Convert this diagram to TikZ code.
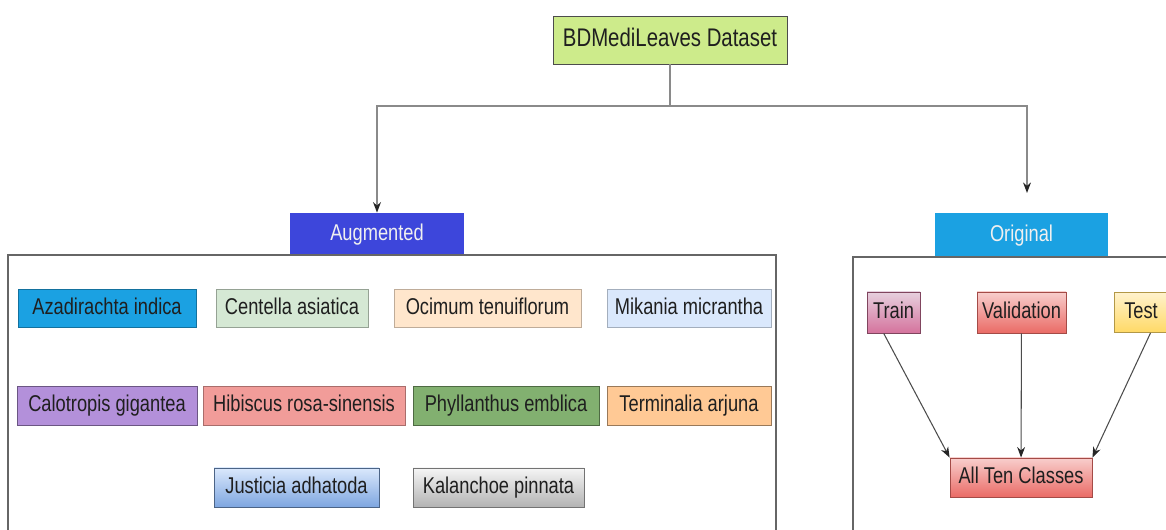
\documentclass[tikz,border=0pt]{standalone}
\usepackage{fontspec}
\usetikzlibrary{arrows.meta}
\setmainfont{Liberation Sans}[FakeStretch=0.8]
\definecolor{dsgreen}{HTML}{CDEB8B}
\definecolor{augblue}{HTML}{3D46DB}
\definecolor{origblue}{HTML}{1BA1E2}
\definecolor{linegray}{HTML}{8A8A8A}
\definecolor{centgreen}{HTML}{D5E8D4}
\definecolor{ocimpeach}{HTML}{FFE6CC}
\definecolor{mikablue}{HTML}{DAE8FC}
\definecolor{calopurple}{HTML}{B390DA}
\definecolor{hibired}{HTML}{F19C99}
\definecolor{phylgreen}{HTML}{82B070}
\definecolor{termorange}{HTML}{FFC995}
\definecolor{justlow}{HTML}{7EA6E0}
\definecolor{kalatop}{HTML}{F5F5F5}
\definecolor{kalalow}{HTML}{B3B3B3}
\definecolor{traintop}{HTML}{E6D0DE}
\definecolor{trainlow}{HTML}{D5739D}
\definecolor{redtop}{HTML}{F8CECC}
\definecolor{redlow}{HTML}{EA6B66}
\definecolor{testtop}{HTML}{FFF2CC}
\definecolor{testlow}{HTML}{FFD966}

\begin{document}
\begin{tikzpicture}[x=0.02cm, y=0.02cm, >={Stealth[length=6pt,width=4.5pt,color=black!85]},
  box/.style={draw=#1, line width=0.5pt, inner sep=0pt, text=black!88,
    text height=9.6pt, text depth=2.6pt, font=\fontsize{13}{15}\selectfont},
  box/.default=black!55,
  head/.style={draw=none, inner sep=0pt, text=white!94!black,
    text height=9.6pt, text depth=2.6pt, font=\fontsize{13}{15}\selectfont},
  frame/.style={draw=black!60, line width=0.7pt},
  link/.style={draw=linegray, line width=0.8pt}]

  \clip (0,0) rectangle (1166,530);

  % top of the tree
  \node[box=black!70, fill=dsgreen, minimum width=4.68cm, minimum height=0.96cm,
    font=\fontsize{14.5}{17}\selectfont, text height=10.6pt, text depth=2.8pt] (data) at (670,490) {BDMediLeaves Dataset};
  \node[head, fill=augblue, minimum width=3.48cm, minimum height=0.84cm] (aug) at (377,296) {Augmented};
  \node[head, fill=origblue, minimum width=3.46cm, minimum height=0.88cm] (orig) at (1021.5,295) {Original};

  \coordinate (split) at (670,424);
  \coordinate (otip) at (1027,337);
  \draw[link] (data) -- (split);
  \draw[link, ->] (split) -| (aug);
  \draw[link, ->] (split) -| (otip);

  % frames
  \draw[frame] (8,275) rectangle (776,-10);
  \draw[frame] (853,273) rectangle (1180,-10);

  % augmented classes
  \node[box=origblue!70!black, fill=origblue, minimum width=3.56cm, minimum height=0.76cm] (azad) at (107,222) {Azadirachta indica};
  \node[box=centgreen!70!black, fill=centgreen, minimum width=3.04cm, minimum height=0.76cm] (cent) at (292,222) {Centella asiatica};
  \node[box=ocimpeach!75!black, fill=ocimpeach, minimum width=3.74cm, minimum height=0.76cm] (ocim) at (487.5,222) {Ocimum tenuiflorum};
  \node[box=mikablue!75!black, fill=mikablue, minimum width=3.28cm, minimum height=0.76cm] (mika) at (689,222) {Mikania micrantha};

  \node[box=calopurple!60!black, fill=calopurple, minimum width=3.60cm, minimum height=0.78cm] (calo) at (107,124.5) {Calotropis gigantea};
  \node[box=hibired!70!black, fill=hibired, minimum width=4.04cm, minimum height=0.78cm] (hibi) at (304,124.5) {Hibiscus rosa-sinensis};
  \node[box=phylgreen!60!black, fill=phylgreen, minimum width=3.72cm, minimum height=0.78cm] (phyl) at (506,124.5) {Phyllanthus emblica};
  \node[box=termorange!60!black, fill=termorange, minimum width=3.28cm, minimum height=0.78cm] (term) at (689,124.5) {Terminalia arjuna};

  \node[box=justlow!60!black, top color=mikablue, bottom color=justlow, minimum width=3.30cm, minimum height=0.78cm] (just) at (296.5,42.5) {Justicia adhatoda};
  \node[box=black!55, top color=kalatop, bottom color=kalalow, minimum width=3.42cm, minimum height=0.78cm] (kala) at (498.5,42.5) {Kalanchoe pinnata};

  % original split
  \node[box=trainlow!60!black, top color=traintop, bottom color=trainlow, minimum width=1.06cm, minimum height=0.82cm] (train) at (893.5,217.5) {Train};
  \node[box=redlow!70!black, top color=redtop, bottom color=redlow, minimum width=1.78cm, minimum height=0.82cm] (valid) at (1021.5,217.5) {Validation};
  \node[box=testlow!70!black, top color=testtop, bottom color=testlow, minimum width=1.08cm, minimum height=0.80cm] (test) at (1141,217.5) {Test};
  \node[box=redlow!70!black, top color=redtop, bottom color=redlow, minimum width=2.84cm, minimum height=0.78cm] (all) at (1021,52.5) {All Ten Classes};

  \draw[->, black!70, line width=0.6pt] (train.245) -- (all.north west);
  \draw[->, black!70, line width=0.6pt] (valid) -- (all);
  \draw[->, black!70, line width=0.6pt] (test.295) -- (all.north east);

\end{tikzpicture}
\end{document}
